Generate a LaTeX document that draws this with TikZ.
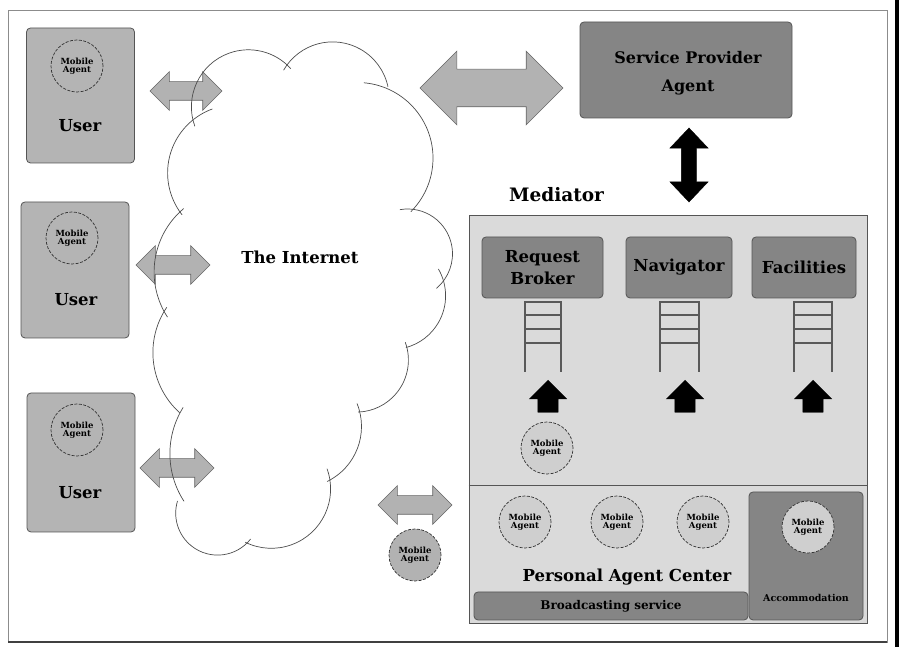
\documentclass[tikz,border=0pt]{standalone}
\usepackage{fontspec}
\setmainfont{DejaVu Serif}
\usetikzlibrary{shapes.arrows}
\definecolor{userfill}{HTML}{B4B4B4}
\definecolor{darkfill}{HTML}{858585}
\definecolor{medfill}{HTML}{DADADA}
\definecolor{arrowfill}{HTML}{B2B2B2}
\definecolor{agentlight}{HTML}{CFCFCF}
\definecolor{boxline}{HTML}{555555}
\newcommand{\fs}[1]{\fontsize{#1}{#1}\selectfont}
\begin{document}
\begin{tikzpicture}[x=1pt,y=1pt,
  box/.style={draw=boxline, rounded corners=4pt, line width=0.8pt, inner sep=0pt},
  userbox/.style={box, fill=userfill, minimum width=108pt},
  darkbox/.style={box, fill=darkfill},
  big/.style={font=\bfseries\fs{16.5}, align=center, inner sep=0pt},
  agent/.style={circle, draw=black!80, dash pattern=on 3pt off 1.5pt, minimum size=52pt, inner sep=0pt,
     font=\bfseries\fs{8.5}, align=center, line width=0.7pt},
  garrow/.style={double arrow, draw=black!60, fill=arrowfill, inner xsep=0pt, inner ysep=9pt,
     double arrow tip angle=90, double arrow head extend=10pt, line width=0.6pt},
  barrow/.style={single arrow, fill=black, draw=black, inner xsep=0pt, inner ysep=10pt, single arrow tip angle=90,
     single arrow head extend=8.5pt, minimum height=32pt, rotate=90, anchor=tip},
  cloudline/.style={draw=black!70, line width=0.7pt},
  ladder/.style={draw=black!65, line width=1.1pt}
]
\useasboundingbox (0,0) rectangle (899,647);
% frame
\draw[black!45, line width=0.8pt] (8,5) rectangle (887,637);
\draw[black!75, line width=1.2pt] (8,5) -- (887,5);
\fill[black] (895,0) rectangle (899,647);

% users
\node[userbox, minimum height=135pt] (user1) at (80.5,551.5) {};
\node[userbox, minimum height=136pt] (user2) at (75,377) {};
\node[userbox, minimum height=139pt] (user3) at (81,184.5) {};
\node[big] (u1t) at (80,521) {User};
\node[big] (u2t) at (76,347) {User};
\node[big] (u3t) at (80,154) {User};
\node[agent, fill=userfill] (agu1) at (77,581) {Mobile\\Agent};
\node[agent, fill=userfill] (agu2) at (72,409) {Mobile\\Agent};
\node[agent, fill=userfill] (agu3) at (77,217) {Mobile\\Agent};

% grey block arrows
\node[garrow, minimum height=72pt] (ar1) at (186,556) {};
\node[garrow, minimum height=74pt] (ar2) at (173,382) {};
\node[garrow, minimum height=74pt] (ar3) at (177,179) {};
\node[garrow, minimum height=74pt] (ar4) at (415,142) {};
\node[garrow, minimum height=143pt, inner ysep=18.5pt, double arrow head extend=18pt] (arbig) at (491.5,559) {};

% cloud
\draw[cloudline] (248.4,540.2) ++(200:57pt) arc[start angle=200, end angle=42, radius=57pt];
\draw[cloudline] (332.6,548.5) ++(150:56.6pt) arc[start angle=150, end angle=12, radius=56.6pt];
\draw[cloudline] (357.3,488.8) ++(85:75.7pt) arc[start angle=85, end angle=-45, radius=75.7pt];
\draw[cloudline] (407.6,393.1) ++(100:44.9pt) arc[start angle=100, end angle=-50, radius=44.9pt];
\draw[cloudline] (392,351.2) ++(30:53.6pt) arc[start angle=30, end angle=-75, radius=53.6pt];
\draw[cloudline] (356.3,287) ++(20:52.1pt) arc[start angle=20, end angle=-88, radius=52.1pt];
\draw[cloudline] (300.3,220.5) ++(22:61.2pt) arc[start angle=22, end angle=-64, radius=61.2pt];
\draw[cloudline] (271.3,158) ++(20:59.3pt) arc[start angle=20, end angle=-116, radius=59.3pt];
\draw[cloudline] (217.6,133.8) ++(-38:41.9pt) arc[start angle=-38, end angle=-197, radius=41.9pt];
\draw[cloudline] (257.3,193.3) ++(213:87.4pt) arc[start angle=213, end angle=148, radius=87.4pt];
\draw[cloudline] (233.8,294.4) ++(228:80.9pt) arc[start angle=228, end angle=146, radius=80.9pt];
\draw[cloudline] (236.9,375) ++(130:82.8pt) arc[start angle=130, end angle=213, radius=82.8pt];
\draw[cloudline] (235.6,474.1) ++(218:68pt) arc[start angle=218, end angle=110, radius=68pt];
\node[big] (internet) at (300,390) {The Internet};

% free mobile agent
\node[agent, fill=arrowfill] (agfree) at (415,92) {Mobile\\Agent};

% service provider
\node[darkbox, minimum width=212pt, minimum height=96pt] (sp) at (686,577) {};
\node[big, font=\bfseries\fs{16}] (spt) at (688,574) {Service Provider\\[12pt]Agent};
\node[double arrow, fill=black, draw=black, inner xsep=0pt, inner ysep=7.5pt, double arrow tip angle=87, rotate=90,
   minimum height=74pt, double arrow head extend=11.5pt] (arsp) at (689,482) {};

% mediator
\node[font=\bfseries\fs{18.5}, inner sep=0pt] (medt) at (556.5,452) {Mediator};
\node[draw=boxline, fill=medfill, line width=0.9pt, minimum width=398pt, minimum height=408pt, inner sep=0pt] (med) at (668,228) {};
\draw[boxline, line width=0.9pt] (med.west |- 0,162) -- (med.east |- 0,162);

\node[darkbox, minimum width=121pt, minimum height=61pt] (rb) at (542.5,379.5) {};
\node[darkbox, minimum width=106pt, minimum height=61pt] (nav) at (679,379.5) {};
\node[darkbox, minimum width=104pt, minimum height=61pt] (fac) at (804,379.5) {};
\node[big] at (rb.center) {Request\\[6pt]Broker};
\node[big] at (nav.center) {Navigator};
\node[big] at (fac.center) {Facilities};

% ladders
\foreach \xa/\xb in {525/561, 660/699, 794/832} {
  \draw[ladder] (\xa,275) -- (\xa,345) -- (\xb,345) -- (\xb,275);
  \draw[ladder] (\xa,332) -- (\xb,332) (\xa,318) -- (\xb,318) (\xa,304) -- (\xb,304);
}
% up arrows
\node[barrow] (up1) at (548,267) {};
\node[barrow] (up2) at (685,267) {};
\node[barrow] (up3) at (813,267) {};

\node[agent, fill=agentlight] (agm) at (547,199) {Mobile\\Agent};

% personal agent center
\node[agent, fill=agentlight] (agp1) at (525,125) {Mobile\\Agent};
\node[agent, fill=agentlight] (agp2) at (617,125) {Mobile\\Agent};
\node[agent, fill=agentlight] (agp3) at (703,125) {Mobile\\Agent};
\node[big] (pact) at (627,70) {Personal Agent Center};
\node[darkbox, minimum width=114pt, minimum height=128pt] (acc) at (806,91) {};
\node[agent, fill=agentlight] (agacc) at (808,120) {Mobile\\Agent};
\node[font=\bfseries\fs{9.5}, inner sep=0pt] (acct) at (806,49) {Accommodation};
\node[darkbox, minimum width=274pt, minimum height=28pt] (bc) at (611,41) {};
\node[font=\bfseries\fs{12}, inner sep=0pt] (bct) at (611,41) {Broadcasting service};
\end{tikzpicture}
\end{document}
